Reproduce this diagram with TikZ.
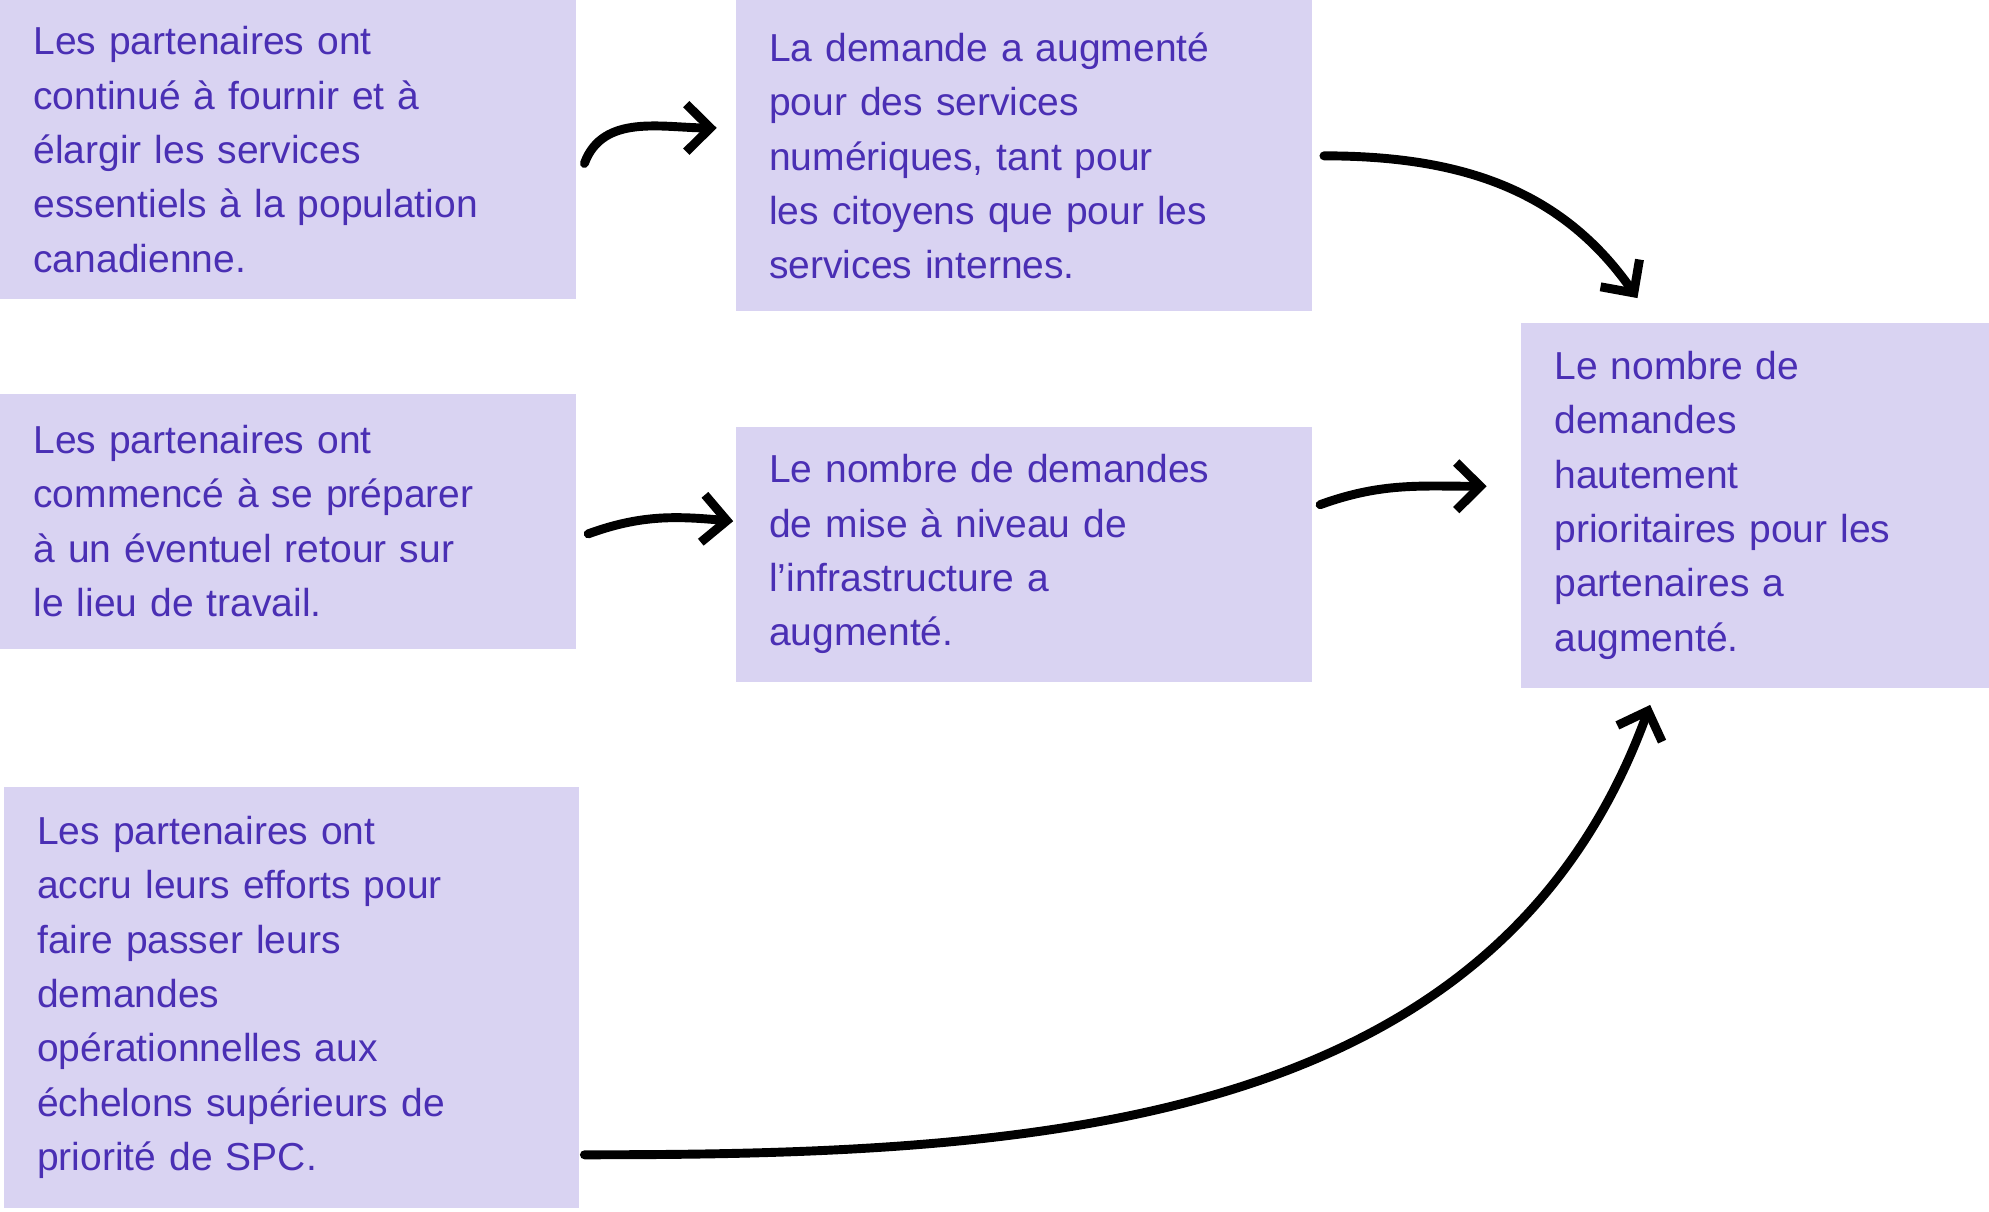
\documentclass[tikz,border=0pt]{standalone}
\usepackage{fontspec}
\setmainfont{Liberation Sans}
\usetikzlibrary{arrows.meta}
\definecolor{boxfill}{HTML}{D9D3F2}
\definecolor{boxtext}{HTML}{4A2FB4}
\begin{document}
\begin{tikzpicture}[
    box/.style={fill=boxfill, text=boxtext, anchor=north west, align=left,
      inner xsep=0.52cm, inner ysep=0pt, font=\fontsize{17.5}{24.4}\selectfont},
    arr/.style={line width=4pt, line cap=round, line join=round,
      -{Straight Barb[length=0.38cm, width=0.75cm, line width=4pt]}}]

      \useasboundingbox (0,0) rectangle (31.36,-19.1);

      % boxes
      \node[box, text width=8.04cm, minimum height=4.7cm] (A) at (0,0)
        {Les partenaires ont\\continué à fournir et à\\élargir les services\\essentiels à la population\\canadienne.};
      \node[box, text width=8.04cm, minimum height=4.9cm] (B) at (11.6,0)
        {La demande a augmenté\\pour des services\\numériques, tant pour\\les citoyens que pour les\\services internes.};
      \node[box, text width=8.04cm, minimum height=4.02cm] (C) at (0,-6.2)
        {Les partenaires ont\\commencé à se préparer\\à un éventuel retour sur\\le lieu de travail.};
      \node[box, text width=8.04cm, minimum height=4.02cm] (D) at (11.6,-6.72)
        {Le nombre de demandes\\de mise à niveau de\\l’infrastructure a\\augmenté.};
      \node[box, text width=6.34cm, minimum height=5.76cm] (E) at (23.98,-5.08)
        {Le nombre de\\demandes\\hautement\\prioritaires pour les\\partenaires a\\augmenté.};
      \node[box, text width=8.02cm, minimum height=6.64cm] (F) at (0.06,-12.4)
        {Les partenaires ont\\accru leurs efforts pour\\faire passer leurs\\demandes\\opérationnelles aux\\échelons supérieurs de\\priorité de SPC.};

      % arrows
      \draw[arr] ([shift={(0.12,-0.22)}]A.east) to[out=70,in=180] ([shift={(-0.3,0.44)}]B.west);
      \draw[arr] ([shift={(0.18,0)}]B.east) to[out=0,in=125] ([shift={(-1.86,0.38)}]E.north);
      \draw[arr] ([shift={(0.18,-0.2)}]C.east) to[out=20,in=175] ([shift={(-0.04,0.52)}]D.west);
      \draw[arr] ([shift={(0.12,0.78)}]D.east) to[out=20,in=180] ([shift={(-0.54,0.3)}]E.west);
      \draw[arr] ([shift={(0.08,-2.48)}]F.east) to[out=0,in=-110] ([shift={(-1.66,-0.26)}]E.south);
    \end{tikzpicture}
\end{document}
